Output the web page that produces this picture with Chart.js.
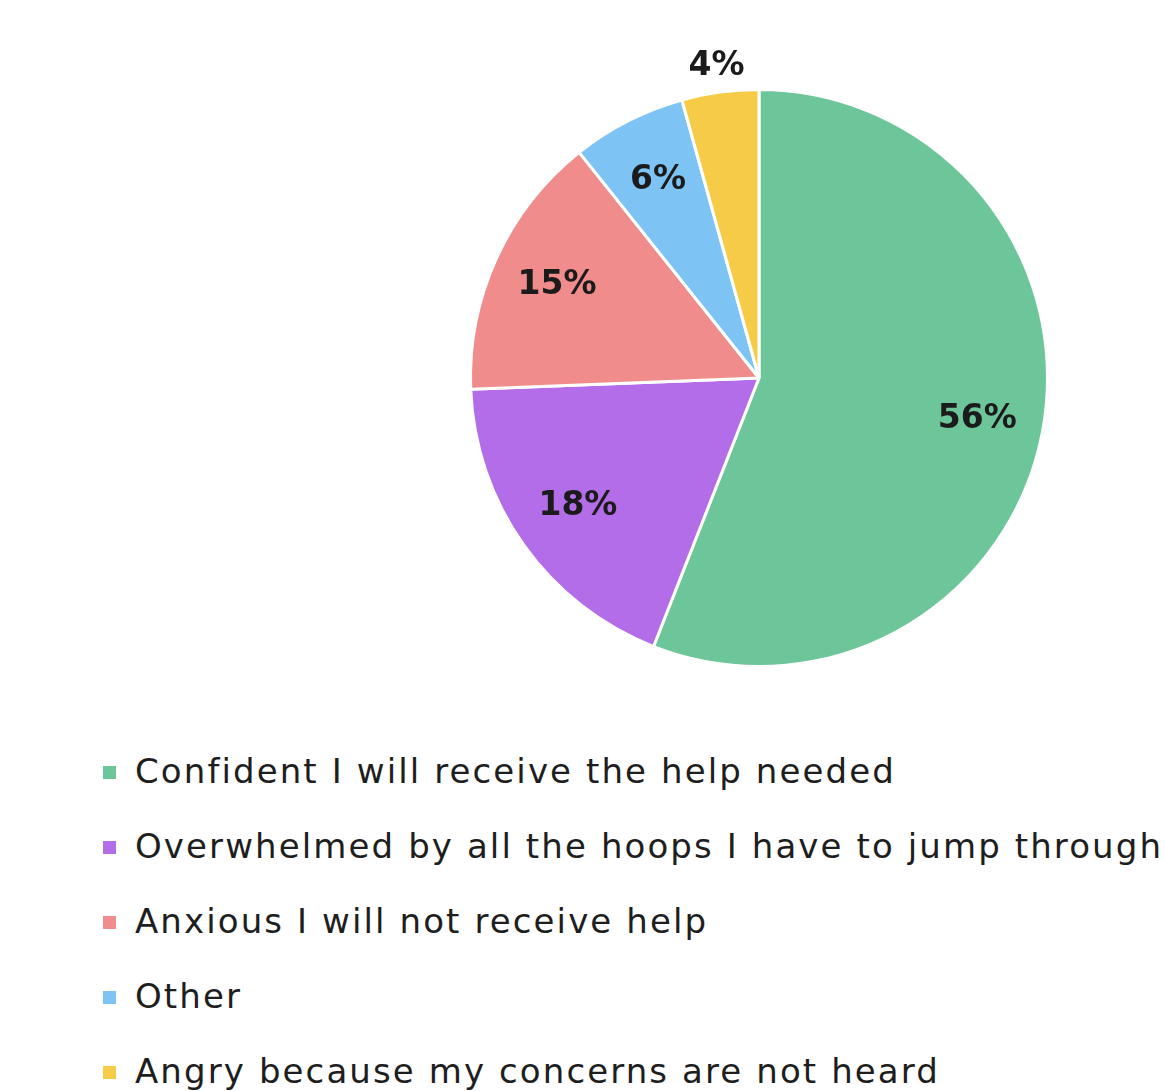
<!DOCTYPE html>
<html>
<head>
<meta charset="utf-8">
<script src="https://cdn.jsdelivr.net/npm/chart.js@4.4.1/dist/chart.umd.min.js"></script>
<style>
  html, body { margin: 0; padding: 0; background: #ffffff; }
  body { width: 1165px; height: 1091px; position: relative; overflow: hidden; }
  #chart-wrap { position: absolute; left: 409px; top: 28px; width: 700px; height: 700px; }
  #legend { position: absolute; left: 103px; top: 748px; margin: 0; padding: 0; list-style: none; }
  #legend li {
    height: 75px; display: flex; align-items: flex-start;
    font-family: "DejaVu Sans", sans-serif; font-size: 34px; color: #1e1e1e;
    letter-spacing: 2.1px; white-space: nowrap; line-height: 46px;
  }
  #legend .box { width: 13px; height: 13px; margin-top: 18px; margin-right: 19px; flex: none; }
</style>
</head>
<body>
<div id="chart-wrap"><canvas id="pie"></canvas></div>
<ul id="legend"></ul>
<script>
const labels = [
  'Confident I will receive the help needed',
  'Overwhelmed by all the hoops I have to jump through',
  'Anxious I will not receive help',
  'Other',
  'Angry because my concerns are not heard'
];
const values = [55.9, 18.4, 14.9, 6.4, 4.3];
const colors = ['#6dc59a', '#b46de8', '#f08c8c', '#7dc4f4', '#f6cb47'];

// percent labels drawn on top of each slice
const sliceLabels = {
  id: 'sliceLabels',
  afterDatasetsDraw(chart) {
    const ctx = chart.ctx;
    const meta = chart.getDatasetMeta(0);
    const total = values.reduce((a, b) => a + b, 0);
    ctx.save();
    ctx.font = 'bold 33px "DejaVu Sans", sans-serif';
    ctx.fillStyle = '#1b1b1b';
    ctx.textAlign = 'center';
    ctx.textBaseline = 'middle';
    meta.data.forEach((arc, i) => {
      const mid = (arc.startAngle + arc.endAngle) / 2;
      const small = values[i] < 5;
      const dist = small ? arc.outerRadius * 1.09 : arc.outerRadius * 0.77;
      const x = arc.x + Math.cos(mid) * dist;
      const y = arc.y + Math.sin(mid) * dist;
      ctx.fillText(Math.round(values[i] / total * 100) + '%', x, y);
    });
    ctx.restore();
  }
};

new Chart(document.getElementById('pie'), {
  type: 'pie',
  data: {
    labels: labels,
    datasets: [{
      data: values,
      backgroundColor: colors,
      borderColor: '#ffffff',
      borderWidth: 3
    }]
  },
  options: {
    responsive: true,
    maintainAspectRatio: false,
    animation: false,
    layout: { padding: 60 },
    plugins: {
      legend: { display: false },
      tooltip: { enabled: false }
    }
  },
  plugins: [sliceLabels]
});

const legend = document.getElementById('legend');
labels.forEach((text, i) => {
  const li = document.createElement('li');
  const box = document.createElement('span');
  box.className = 'box';
  box.style.background = colors[i];
  li.appendChild(box);
  li.appendChild(document.createTextNode(text));
  legend.appendChild(li);
});
</script>
</body>
</html>
